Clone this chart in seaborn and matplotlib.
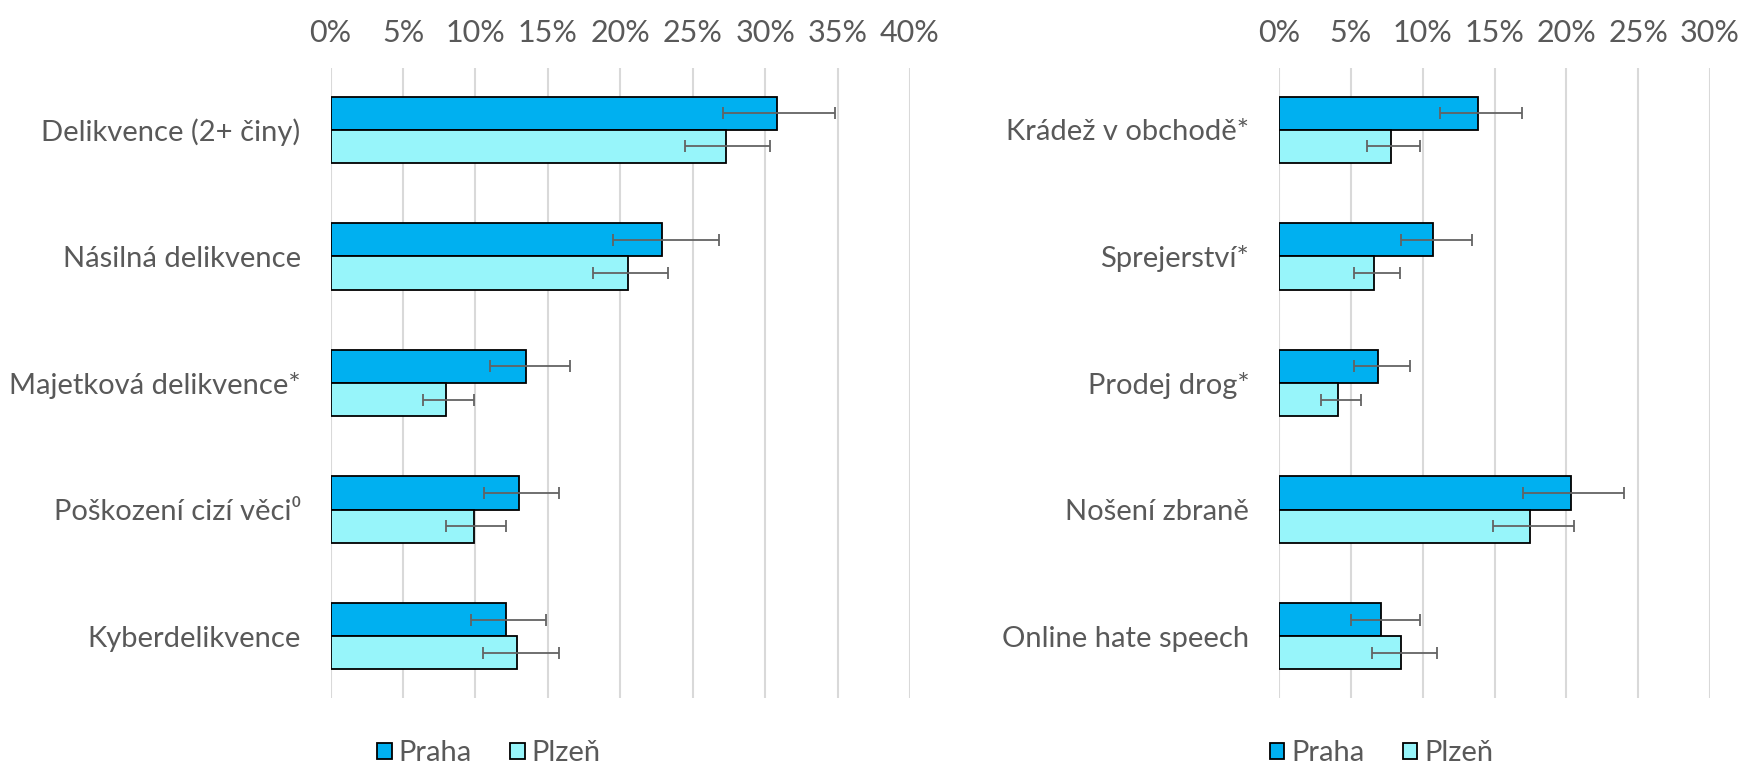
import pandas as pd
import matplotlib.pyplot as plt
from matplotlib.patches import Patch
import seaborn as sns

# left panel
left_cats = ["Delikvence (2+ činy)", "Násilná delikvence", "Majetková delikvence*",
             "Poškození cizí věci⁰", "Kyberdelikvence"]
left_praha = [30.8, 22.9, 13.5, 13.0, 12.1]
left_praha_lo = [27.1, 19.5, 11.0, 10.6, 9.7]
left_praha_hi = [34.8, 26.8, 16.5, 15.8, 14.9]
left_plzen = [27.3, 20.5, 8.0, 9.9, 12.9]
left_plzen_lo = [24.5, 18.1, 6.4, 8.0, 10.5]
left_plzen_hi = [30.3, 23.3, 9.9, 12.1, 15.8]

# right panel
right_cats = ["Krádež v obchodě*", "Sprejerství*", "Prodej drog*",
              "Nošení zbraně", "Online hate speech"]
right_praha = [13.85, 10.7, 6.9, 20.3, 7.1]
right_praha_lo = [11.2, 8.5, 5.2, 17.0, 5.0]
right_praha_hi = [16.9, 13.45, 9.1, 24.0, 9.8]
right_plzen = [7.8, 6.6, 4.1, 17.5, 8.5]
right_plzen_lo = [6.1, 5.2, 2.9, 14.9, 6.5]
right_plzen_hi = [9.8, 8.4, 5.7, 20.5, 11.0]

cities = ["Praha", "Plzeň"]
colors = {"Praha": "#00B0F0", "Plzeň": "#97F5FA"}
text_col = "#595959"

sns.set_style("white")
plt.rcParams["font.family"] = ["Lato", "DejaVu Sans"]


def long_df(cats, praha, plzen):
    return pd.DataFrame({
        "cat": cats * 2,
        "val": praha + plzen,
        "city": ["Praha"] * len(cats) + ["Plzeň"] * len(cats),
    })


def draw(ax, cats, praha, plzen, lows, highs, xmax):
    df = long_df(cats, praha, plzen)
    sns.barplot(data=df, y="cat", x="val", hue="city", hue_order=cities,
                palette=colors, saturation=1, orient="h", width=0.524, errorbar=None,
                edgecolor="black", linewidth=1.3, legend=False, ax=ax)
    for cont, vals, lo, hi in zip(ax.containers, [praha, plzen], lows, highs):
        ys = [p.get_y() + p.get_height() / 2 for p in cont.patches]
        err = [[v - l for v, l in zip(vals, lo)], [h - v for v, h in zip(vals, hi)]]
        ax.errorbar(vals, ys, xerr=err, fmt="none", ecolor="#636363",
                    elinewidth=1.3, capsize=4.5, capthick=1.3, zorder=5)
    ax.set_xlim(0, xmax)
    ticks = list(range(0, xmax + 1, 5))
    ax.set_xticks(ticks)
    ax.set_xticklabels([f"{t}%" for t in ticks])
    ax.xaxis.tick_top()
    ax.xaxis.grid(True, color="#d9d9d9", linewidth=1.5)
    ax.set_axisbelow(True)
    for s in ax.spines.values():
        s.set_visible(False)
    ax.tick_params(axis="x", length=0, pad=15, labelsize=22, labelcolor=text_col)
    ax.tick_params(axis="y", length=0, pad=21.5, labelsize=21, labelcolor=text_col)
    ax.set_xlabel("")
    ax.set_ylabel("")


fig = plt.figure(figsize=(17.4, 7.67), dpi=100)
ax1 = fig.add_axes([0.19, 0.0899, 0.333, 0.8214])
ax2 = fig.add_axes([0.7351, 0.0899, 0.2477, 0.8214])

draw(ax1, left_cats, left_praha, left_plzen,
     [left_praha_lo, left_plzen_lo], [left_praha_hi, left_plzen_hi], 40)
draw(ax2, right_cats, right_praha, right_plzen,
     [right_praha_lo, right_plzen_lo], [right_praha_hi, right_plzen_hi], 30)

handles = [Patch(facecolor=colors[c], edgecolor="black", linewidth=1.3, label=c) for c in cities]
for cx in [0.281, 0.794]:
    fig.legend(handles=handles, loc="center", bbox_to_anchor=(cx, 0.018), ncol=2,
               frameon=False, fontsize=21, labelcolor=text_col, handlelength=0.5,
               handleheight=0.5, handletextpad=0.25, columnspacing=1.3,
               borderpad=0.05, borderaxespad=0)

fig.savefig("out.png", dpi=100)
